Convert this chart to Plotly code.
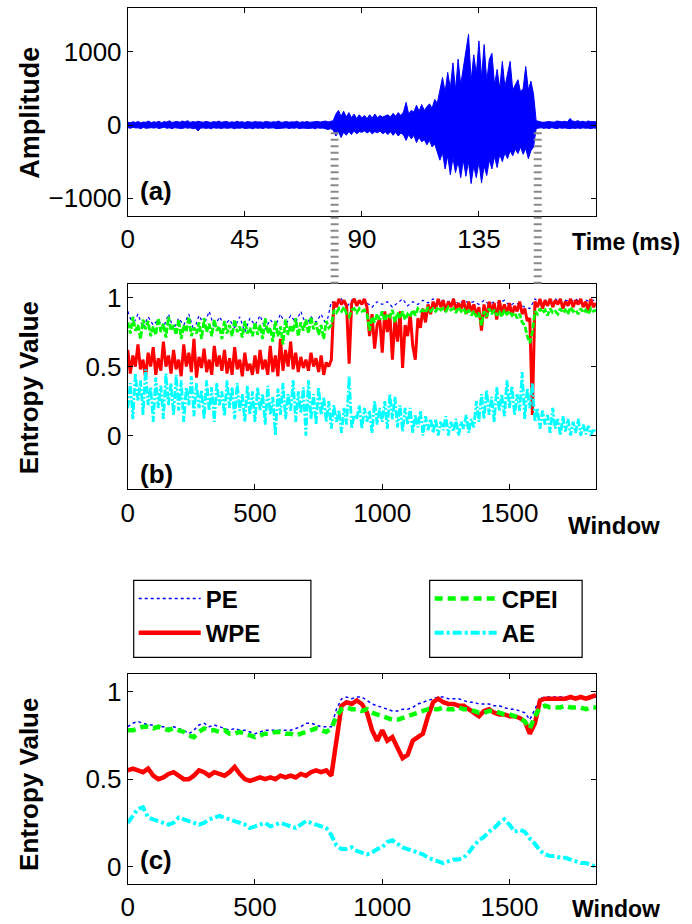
import plotly.graph_objects as go

# ---------------- data ----------------
# (a) amplitude envelope, one value per ms (0..180 ms)
amp_upper = [40,30,45,35,50,30,42,38,55,33,
             45,38,52,30,48,40,58,35,44,50,
             38,55,42,60,36,48,40,52,45,38,
             50,42,35,48,40,55,38,45,50,36,
             44,38,52,40,46,35,48,42,38,50,
             40,45,36,50,42,38,46,40,55,35,
             42,48,38,45,40,52,36,44,40,48,
             38,45,42,50,40,46,55,42,48,60,
             150,200,120,190,110,170,100,150,90,140,
             100,130,90,140,95,150,100,130,110,125,
             140,110,160,120,170,130,180,310,150,200,
             180,270,190,280,200,250,290,230,350,300,
             480,650,450,720,500,850,480,900,550,800,
             1000,1240,600,960,700,1150,650,1100,600,900,
             980,550,760,500,870,520,700,870,480,550,
             620,450,500,800,480,600,420,60,45,40,
             38,45,50,42,40,55,48,44,52,40,
             90,55,48,60,45,52,40,56,48,50,
             45]
amp_lower = [-35,-45,-30,-40,-38,-50,-32,-45,-40,-36,
             -42,-35,-48,-40,-30,-45,-38,-50,-36,-42,
             -40,-48,-35,-44,-38,-50,-42,-80,-45,-38,
             -46,-40,-52,-36,-44,-40,-48,-38,-45,-42,
             -38,-50,-40,-45,-36,-48,-42,-40,-52,-38,
             -45,-40,-48,-36,-44,-42,-38,-50,-40,-46,
             -42,-38,-48,-40,-45,-36,-50,-42,-44,-40,
             -46,-40,-52,-38,-45,-42,-48,-60,-50,-70,
             -150,-90,-170,-100,-140,-90,-130,-80,-120,-90,
             -100,-80,-110,-85,-120,-90,-105,-80,-120,-95,
             -130,-90,-140,-100,-150,-110,-135,-210,-130,-190,
             -140,-240,-170,-230,-200,-270,-210,-300,-260,-360,
             -480,-380,-600,-420,-680,-450,-650,-500,-720,-480,
             -700,-500,-800,-560,-720,-500,-790,-560,-690,-480,
             -600,-430,-580,-400,-500,-380,-460,-350,-420,-330,
             -390,-300,-400,-320,-460,-350,-300,-50,-42,-38,
             -45,-40,-48,-36,-42,-50,-38,-45,-40,-44,
             -50,-42,-46,-40,-48,-38,-45,-42,-50,-40,
             -45]
time_ticks = [0, 45, 90, 135]
cut_times = [79.5, 157.6]   # segment boundaries (ms)

# (b) raw entropy series, every 10 windows
wpe_b = [0.62,0.45,0.58,0.5,0.66,0.48,0.55,0.42,0.6,0.5,
         0.64,0.44,0.56,0.47,0.68,0.5,0.58,0.45,0.62,0.48,
         0.55,0.43,0.66,0.5,0.6,0.46,0.7,0.42,0.57,0.49,
         0.63,0.46,0.55,0.44,0.65,0.5,0.58,0.47,0.62,0.45,
         0.56,0.44,0.64,0.48,0.55,0.43,0.6,0.47,0.52,0.44,
         0.58,0.45,0.62,0.48,0.55,0.44,0.65,0.46,0.58,0.43,
         0.7,0.47,0.62,0.5,0.68,0.48,0.6,0.46,0.57,0.49,
         0.55,0.47,0.6,0.5,0.56,0.46,0.58,0.44,0.53,0.5,
         0.55,0.97,0.93,0.99,0.95,0.98,0.94,0.52,0.96,0.99,
         0.94,0.98,0.95,0.99,0.93,0.72,0.88,0.63,0.8,0.85,
         0.6,0.9,0.75,0.88,0.55,0.85,0.68,0.9,0.49,0.8,
         0.72,0.88,0.65,0.55,0.85,0.78,0.92,0.82,0.95,0.88,
         0.97,0.92,0.99,0.93,0.98,0.9,0.97,0.93,0.99,0.91,
         0.96,0.92,0.98,0.88,0.97,0.9,0.95,0.87,0.93,0.76,
         0.95,0.85,0.97,0.9,0.96,0.84,0.98,0.89,0.95,0.88,
         0.96,0.87,0.94,0.9,0.97,0.88,0.92,0.83,0.85,0.15,
         0.97,0.93,0.99,0.92,0.98,0.94,0.99,0.93,0.98,0.95,
         0.99,0.92,0.97,0.94,0.99,0.93,0.98,0.95,0.99,0.93,
         0.97,0.9,0.99,0.93,0.96]
cpei_b = [0.82,0.74,0.86,0.76,0.8,0.7,0.84,0.77,0.83,0.72,
          0.79,0.73,0.85,0.75,0.81,0.71,0.86,0.76,0.8,0.73,
          0.84,0.7,0.8,0.75,0.86,0.72,0.78,0.74,0.82,0.7,
          0.85,0.75,0.81,0.72,0.84,0.76,0.79,0.7,0.83,0.74,
          0.8,0.72,0.84,0.75,0.79,0.71,0.83,0.74,0.78,0.72,
          0.82,0.73,0.8,0.7,0.85,0.74,0.78,0.68,0.83,0.72,
          0.79,0.66,0.84,0.73,0.8,0.75,0.85,0.72,0.82,0.76,
          0.84,0.74,0.86,0.77,0.82,0.73,0.8,0.7,0.83,0.78,
          0.8,0.91,0.89,0.92,0.9,0.93,0.88,0.86,0.91,0.92,
          0.89,0.92,0.9,0.91,0.88,0.76,0.86,0.82,0.88,0.84,
          0.9,0.83,0.88,0.86,0.91,0.82,0.89,0.85,0.9,0.84,
          0.88,0.86,0.91,0.87,0.92,0.9,0.91,0.89,0.93,0.9,
          0.92,0.9,0.93,0.91,0.92,0.9,0.93,0.91,0.92,0.89,
          0.93,0.9,0.92,0.88,0.91,0.87,0.9,0.86,0.89,0.8,
          0.9,0.86,0.92,0.88,0.91,0.87,0.9,0.86,0.91,0.88,
          0.9,0.87,0.89,0.85,0.88,0.82,0.8,0.72,0.67,0.75,
          0.9,0.88,0.92,0.89,0.91,0.87,0.92,0.89,0.9,0.88,
          0.92,0.89,0.91,0.88,0.93,0.9,0.91,0.88,0.92,0.89,
          0.91,0.88,0.92,0.9,0.91]
ae_b = [0.2,0.38,0.12,0.45,0.25,0.4,0.15,0.48,0.22,0.35,
        0.1,0.42,0.2,0.36,0.12,0.45,0.22,0.38,0.15,0.44,
        0.18,0.4,0.1,0.35,0.22,0.43,0.14,0.38,0.2,0.33,
        0.12,0.4,0.18,0.35,0.1,0.38,0.22,0.32,0.14,0.4,
        0.2,0.35,0.12,0.38,0.18,0.3,0.1,0.36,0.15,0.32,
        0.1,0.35,0.18,0.3,0.08,0.36,0.15,0.28,0.0,0.34,
        0.15,0.38,0.12,0.3,0.18,0.4,0.1,0.32,0.16,0.35,
        0.0,0.4,0.12,0.3,0.08,0.35,0.15,0.28,0.1,0.25,
        0.05,0.22,0.1,0.18,0.02,0.2,0.08,0.43,0.05,0.15,
        0.12,0.22,0.05,0.2,0.1,0.18,0.02,0.25,0.08,0.2,
        0.1,0.25,0.05,0.3,0.12,0.28,0.06,0.22,0.03,0.2,
        0.08,0.2,0.02,0.15,0.06,0.18,0.0,0.14,0.04,0.12,
        0.02,0.12,0.0,0.1,0.04,0.14,0.0,0.1,0.03,0.12,
        0.0,0.1,0.05,0.15,0.02,0.12,0.06,0.25,0.1,0.3,
        0.12,0.33,0.15,0.28,0.1,0.35,0.18,0.3,0.14,0.4,
        0.2,0.36,0.15,0.3,0.18,0.46,0.12,0.34,0.2,0.38,
        0.1,0.2,0.05,0.18,0.08,0.15,0.02,0.2,0.05,0.12,
        0.0,0.14,0.03,0.12,0.0,0.1,0.02,0.12,0.0,0.08,
        0.01,0.07,0.0,0.05,0.02]
# PE raw, every 20 windows
pe_b = [0.9,0.8,0.88,0.78,0.86,0.8,0.84,0.78,0.88,0.77,
        0.85,0.8,0.88,0.76,0.87,0.8,0.9,0.78,0.86,0.8,
        0.84,0.78,0.86,0.75,0.85,0.8,0.87,0.77,0.84,0.79,
        0.88,0.8,0.87,0.82,0.9,0.8,0.86,0.82,0.88,0.8,
        0.97,0.95,0.99,0.93,0.98,0.94,0.99,0.96,0.93,0.97,
        0.95,0.97,0.93,0.96,0.99,0.94,0.97,0.95,0.98,0.96,
        0.99,0.96,0.98,0.97,0.99,0.95,0.98,0.96,0.97,0.95,
        0.98,0.95,0.97,0.96,0.98,0.94,0.96,0.95,0.93,0.92,
        0.99,0.96,0.98,0.97,0.99,0.96,0.98,0.97,0.99,0.96,
        0.98,0.97,0.99]

# (c) smoothed entropy series, every 20 windows
pe_c = [0.8,0.82,0.83,0.82,0.81,0.81,0.8,0.8,0.79,0.8,
        0.79,0.78,0.76,0.78,0.81,0.82,0.8,0.81,0.8,0.79,
        0.78,0.79,0.78,0.78,0.77,0.76,0.77,0.78,0.78,0.78,
        0.78,0.78,0.78,0.79,0.8,0.82,0.82,0.81,0.8,0.8,
        0.8,0.9,0.96,0.97,0.96,0.97,0.97,0.95,0.93,0.92,
        0.91,0.9,0.89,0.89,0.9,0.9,0.91,0.93,0.94,0.95,
        0.96,0.97,0.97,0.96,0.96,0.96,0.95,0.94,0.94,0.93,
        0.93,0.93,0.92,0.92,0.91,0.9,0.9,0.89,0.88,0.84,
        0.9,0.96,0.97,0.97,0.97,0.97,0.97,0.97,0.97,0.97,
        0.97,0.97,0.97]
wpe_c = [0.55,0.56,0.55,0.54,0.56,0.52,0.5,0.51,0.53,0.54,
         0.52,0.5,0.5,0.52,0.55,0.54,0.52,0.54,0.53,0.52,
         0.54,0.57,0.53,0.5,0.49,0.5,0.51,0.5,0.51,0.5,
         0.52,0.51,0.52,0.51,0.53,0.52,0.54,0.55,0.54,0.55,
         0.52,0.72,0.92,0.94,0.93,0.95,0.93,0.88,0.78,0.72,
         0.78,0.72,0.74,0.68,0.62,0.64,0.72,0.74,0.76,0.86,
         0.94,0.96,0.94,0.93,0.93,0.92,0.92,0.9,0.88,0.86,
         0.89,0.9,0.88,0.87,0.87,0.86,0.86,0.85,0.83,0.76,
         0.82,0.95,0.96,0.96,0.96,0.96,0.96,0.97,0.96,0.97,
         0.96,0.97,0.98]
cpei_c = [0.78,0.78,0.79,0.8,0.8,0.79,0.8,0.79,0.78,0.79,
          0.78,0.77,0.75,0.74,0.77,0.79,0.78,0.78,0.77,0.78,
          0.76,0.76,0.77,0.76,0.75,0.74,0.75,0.76,0.76,0.77,
          0.77,0.76,0.76,0.75,0.76,0.77,0.78,0.79,0.78,0.77,
          0.79,0.86,0.9,0.91,0.9,0.9,0.89,0.9,0.88,0.87,
          0.86,0.85,0.84,0.84,0.85,0.86,0.87,0.88,0.89,0.9,
          0.9,0.9,0.91,0.9,0.9,0.91,0.9,0.9,0.89,0.88,
          0.88,0.89,0.89,0.88,0.87,0.87,0.86,0.85,0.83,0.79,
          0.86,0.91,0.92,0.91,0.91,0.91,0.92,0.91,0.91,0.91,
          0.9,0.91,0.91]
ae_c = [0.25,0.29,0.33,0.34,0.28,0.27,0.26,0.25,0.24,0.25,
        0.28,0.27,0.26,0.25,0.24,0.25,0.27,0.28,0.29,0.28,
        0.27,0.26,0.25,0.24,0.22,0.23,0.24,0.25,0.23,0.24,
        0.25,0.24,0.23,0.22,0.24,0.26,0.25,0.24,0.23,0.22,
        0.18,0.12,0.1,0.1,0.11,0.09,0.08,0.07,0.08,0.1,
        0.11,0.14,0.15,0.13,0.11,0.1,0.09,0.08,0.07,0.05,
        0.04,0.03,0.02,0.03,0.04,0.04,0.05,0.08,0.12,0.15,
        0.17,0.2,0.22,0.25,0.27,0.24,0.2,0.21,0.2,0.16,
        0.13,0.09,0.07,0.06,0.06,0.05,0.05,0.04,0.03,0.02,
        0.02,0.01,0.0]
window_ticks = [0, 500, 1000, 1500]
entropy_ticks = [0, 0.5, 1]

# ---------------- figure ----------------
W, H = 692, 924
time_ms = list(range(len(amp_upper)))
win10 = [10 * i for i in range(len(wpe_b))]
win20 = [20 * i for i in range(len(pe_b))]
win20c = [20 * i for i in range(len(pe_c))]

BLUE, RED, GREEN, CYAN = '#0000ff', '#ff0000', '#00ff00', '#00ffff'

fig = go.Figure()
fig.add_trace(go.Scatter(x=time_ms + time_ms[::-1], y=amp_upper + amp_lower[::-1],
                         mode='lines', fill='toself', fillcolor=BLUE,
                         line=dict(color=BLUE, width=1), showlegend=False,
                         xaxis='x', yaxis='y', hoverinfo='skip'))

# panel (b)
fig.add_trace(go.Scatter(x=win20, y=pe_b, mode='lines', line=dict(color=BLUE, width=1.2, dash='dot'),
                         showlegend=False, xaxis='x2', yaxis='y2'))
fig.add_trace(go.Scatter(x=win10, y=wpe_b, mode='lines', line=dict(color=RED, width=3),
                         showlegend=False, xaxis='x2', yaxis='y2'))
fig.add_trace(go.Scatter(x=win10, y=cpei_b, mode='lines', line=dict(color=GREEN, width=2.8, dash='6px,2px'),
                         showlegend=False, xaxis='x2', yaxis='y2'))
fig.add_trace(go.Scatter(x=win10, y=ae_b, mode='lines', line=dict(color=CYAN, width=2.8, dash='8px,2px,2px,2px'),
                         showlegend=False, xaxis='x2', yaxis='y2'))

# panel (c)
fig.add_trace(go.Scatter(x=win20c, y=pe_c, mode='lines', name='PE', legend='legend',
                         line=dict(color=BLUE, width=1.5, dash='dot'), xaxis='x3', yaxis='y3'))
fig.add_trace(go.Scatter(x=win20c, y=wpe_c, mode='lines', name='WPE', legend='legend',
                         line=dict(color=RED, width=4.5), xaxis='x3', yaxis='y3'))
fig.add_trace(go.Scatter(x=win20c, y=cpei_c, mode='lines', name='CPEI', legend='legend2',
                         line=dict(color=GREEN, width=4.5, dash='8px,5px'), xaxis='x3', yaxis='y3'))
fig.add_trace(go.Scatter(x=win20c, y=ae_c, mode='lines', name='AE', legend='legend2',
                         line=dict(color=CYAN, width=4, dash='9px,3px,3px,3px'), xaxis='x3', yaxis='y3'))

FONT = 'Liberation Sans, Arial, sans-serif'
tickfont = dict(family=FONT, size=26, color='black')

def ax(**kw):
    d = dict(showline=True, linecolor='black', linewidth=1, mirror='ticks', ticks='inside',
             ticklen=5, tickcolor='black', showgrid=False, zeroline=False, tickfont=tickfont,
             fixedrange=True)
    d.update(kw)
    return d

xdom = [122 / W, 595 / W]
def ydom(top, bottom):
    return [1 - bottom / H, 1 - top / H]

legfont = dict(family=FONT, size=24, color='black', weight='bold')
fig.update_layout(
    width=W, height=H, autosize=False,
    margin=dict(l=0, r=0, t=0, b=0),
    paper_bgcolor='white', plot_bgcolor='white',
    xaxis=ax(domain=xdom, range=[0, 180], tickvals=time_ticks, anchor='y'),
    yaxis=ax(domain=ydom(7, 215), range=[-1240, 1600], tickvals=[-1000, 0, 1000], anchor='x'),
    xaxis2=ax(domain=xdom, range=[0, 1840], tickvals=window_ticks, anchor='y2'),
    yaxis2=ax(domain=ydom(283, 489), range=[-0.39, 1.1], tickvals=entropy_ticks, anchor='x2'),
    xaxis3=ax(domain=xdom, range=[0, 1840], tickvals=window_ticks, anchor='y3'),
    yaxis3=ax(domain=ydom(674, 884), range=[-0.1, 1.1], tickvals=entropy_ticks, anchor='x3'),
    legend=dict(x=128 / W, y=1 - 576 / H, xanchor='left', yanchor='top', borderwidth=0,
                bgcolor='rgba(0,0,0,0)', itemwidth=62, tracegroupgap=0, font=legfont),
    legend2=dict(x=427 / W, y=1 - 576 / H, xanchor='left', yanchor='top', borderwidth=0,
                 bgcolor='rgba(0,0,0,0)', itemwidth=62, tracegroupgap=0, font=legfont),
)

# legend frames
for (lx0, lx1) in [(128, 307), (427, 581)]:
    fig.add_shape(type='rect', xref='paper', yref='paper', x0=lx0 / W, x1=lx1 / W,
                  y0=1 - 657 / H, y1=1 - 580 / H, line=dict(color='black', width=1.2),
                  fillcolor='rgba(0,0,0,0)', layer='below')

# dashed connectors between (a) and (b)
for tcut in cut_times:
    fig.add_shape(type='line', xref='x', yref='paper', x0=tcut, x1=tcut,
                  y0=1 - 283 / H, y1=1 - 131 / H,
                  line=dict(color='#8a8a8a', width=8, dash='2px,4.5px'), layer='above')

def note(text, x, y, size=24, angle=0, xanchor='center'):
    fig.add_annotation(text=text, xref='paper', yref='paper', x=x / W, y=1 - y / H,
                       showarrow=False, textangle=angle, xanchor=xanchor, yanchor='middle',
                       font=dict(family=FONT, size=size, color='black', weight='bold'))

note('Amplitude', 23, 112, size=27, angle=-90)
note('Time (ms)', 625, 241, size=23)
note('Entropy Value', 22, 387, size=26, angle=-90)
note('Window', 613, 525, size=24)
note('Entropy Value', 22, 784, size=26, angle=-90)
note('Window', 615, 909, size=23)
note('(a)', 132, 190, size=26, xanchor='left')
note('(b)', 132, 474, size=26, xanchor='left')
note('(c)', 132, 860, size=26, xanchor='left')

fig.write_html('out.html', config={'displayModeBar': False},
               post_script="document.body.style.margin='0';document.body.style.overflow='hidden';")
